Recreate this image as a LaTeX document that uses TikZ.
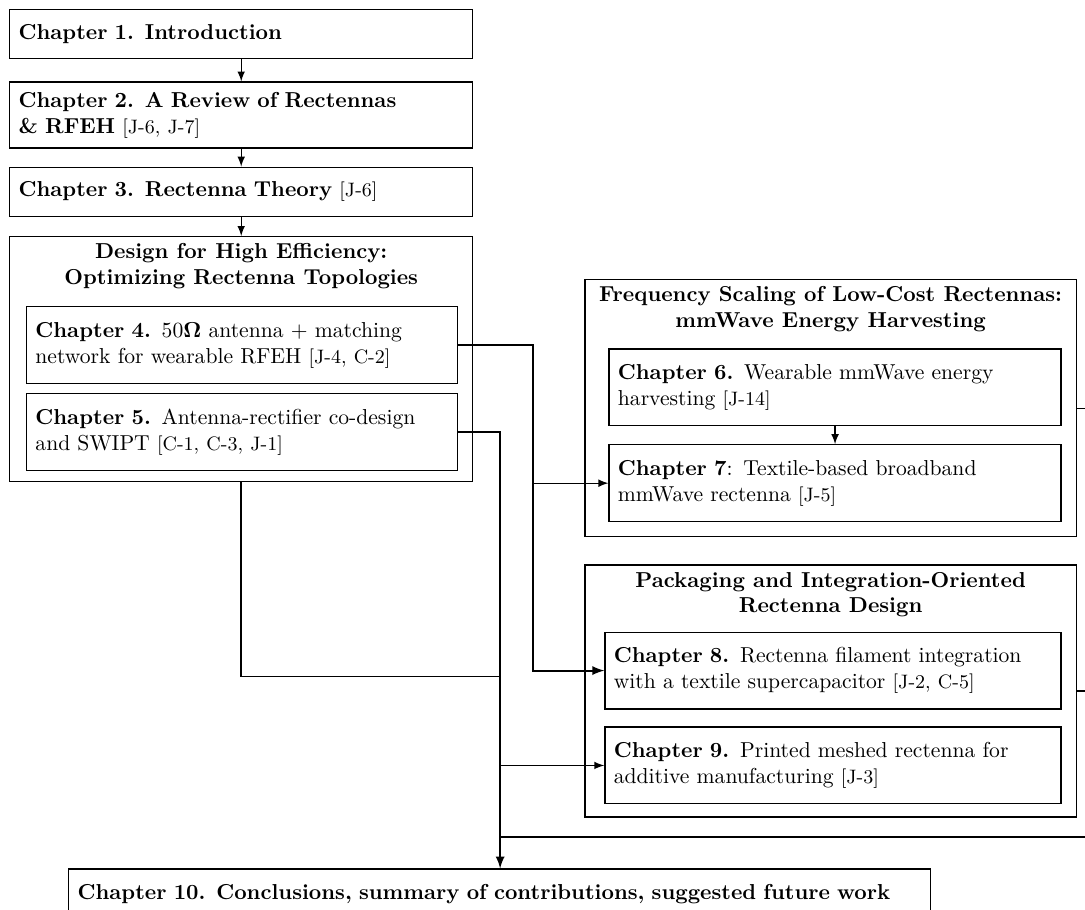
\documentclass[tikz,border=0pt]{standalone}
\usetikzlibrary{positioning}

\tikzset{
  chapter/.style={draw, line width=0.6pt, align=left, inner xsep=4.1pt,
    text width=206pt, minimum height=22.7pt},
  group/.style={draw, line width=0.6pt, minimum width=227.2pt},
  grouptitle/.style={font=\bfseries, align=center},
  link/.style={line width=0.6pt, -latex},
  bus/.style={line width=0.9pt}
}

\begin{document}
\begin{tikzpicture} [node distance = 9pt]
    \useasboundingbox (0,0) rectangle (502pt,-420.6pt);
    % place nodes
    \node [chapter, anchor=north west] (ch1) at (4.2pt,-4.2pt) {\textbf{Chapter 1. Introduction}};
    \node [chapter, below=10.2pt of ch1, minimum height=30.5pt] (ch2) {\textbf{Chapter 2. A Review of Rectennas}\\\textbf{\& RFEH} {\small[J-6, J-7]}};
    \node [chapter, below=8.3pt of ch2] (ch3) {\textbf{Chapter 3. Rectenna Theory} {\small[J-6]}};
    \node [group, below=8.8pt of ch3, minimum width=214.2pt, minimum height=113.4pt] (design) {};
    \node [grouptitle, below=0pt of design.north] (designTitle) {Design for High Efficiency:\\Optimizing Rectenna Topologies};
    \node [chapter, below right=32.4pt and 7.8pt of design.north west, text width=191.2pt, minimum height=35.5pt] (ch4) {\textbf{Chapter 4.} 50$\mathbf{\Omega}$ antenna $+$ matching\\network for wearable RFEH {\small[J-4, C-2]}};
    \node [chapter, below=4.2pt of ch4, text width=191.2pt, minimum height=35.5pt] (ch5) {\textbf{Chapter 5.} Antenna-rectifier co-design\\and SWIPT {\small[C-1, C-3, J-1]}};
    % mmWave group
    \node [group, below right=19.9pt and 51.4pt of design.north east, minimum height=118.9pt] (freq) {};
    \node [grouptitle, below=0pt of freq.north] (freqTitle) {Frequency Scaling of Low-Cost Rectennas:\\mmWave Energy Harvesting};
    \node [chapter, below right=32pt and 11.1pt of freq.north west, text width=200.9pt, minimum height=35.5pt] (ch6) {\textbf{Chapter 6.} Wearable mmWave energy\\harvesting {\small[J-14]}};
    \node [chapter, below=8.3pt of ch6, text width=200.9pt, minimum height=35.5pt] (ch7) {\textbf{Chapter 7}: Textile-based broadband\\mmWave rectenna {\small[J-5]}};
    % packaging group
    \node [group, below=12.5pt of freq, minimum height=116.6pt] (pack) {};
    \node [grouptitle, below=0pt of pack.north] (packTitle) {Packaging and Integration-Oriented\\Rectenna Design};
    \node [chapter, below right=31.1pt and 9.2pt of pack.north west, text width=202.8pt, minimum height=35.5pt] (ch8) {\textbf{Chapter 8.} Rectenna filament integration\\with a textile supercapacitor {\small[J-2, C-5]}};
    \node [chapter, below=7.8pt of ch8, text width=202.8pt, minimum height=35.5pt] (ch9) {\textbf{Chapter 9.} Printed meshed rectenna for\\additive manufacturing {\small[J-3]}};
    \node [chapter, below right=178.6pt and 27.3pt of design.south west, text width=390.6pt] (ch10) {\textbf{Chapter 10. Conclusions, summary of contributions, suggested future work}};
    % bus coordinates
    \coordinate [right=34.7pt of ch4.east] (busA);
    \coordinate [right=19.4pt of ch5.east] (busB);
    \coordinate [below=89.8pt of design.south] (merge);
    \coordinate (tapC) at (230.9pt,-387.3pt);
    \coordinate (edgeC) at (505pt,-387.3pt);
    % draw edges
    \draw [link] (ch1) -- (ch2);
    \draw [link] (ch2) -- (ch3);
    \draw [link] (ch3) -- (design);
    \draw [link] (ch6) -- (ch7);
    \draw [bus, -latex] (ch4.east) -- (busA) |- (ch8.west);
    \draw [link] (busA |- ch7.west) -- (ch7.west);
    \draw [bus, -latex] (ch5.east) -- (busB) -- (busB |- ch10.north);
    \draw [bus] (design.south) |- (merge -| busB);
    \draw [link] (busB |- ch9.west) -- (ch9.west);
    \draw [link, -] (tapC) -- (edgeC);
    % lines leaving the picture on the right
    \draw [link, -] (freq.east) -- (freq.east -| edgeC);
    \draw [link, -] (pack.east) -- (pack.east -| edgeC);
  \end{tikzpicture}
\end{document}
